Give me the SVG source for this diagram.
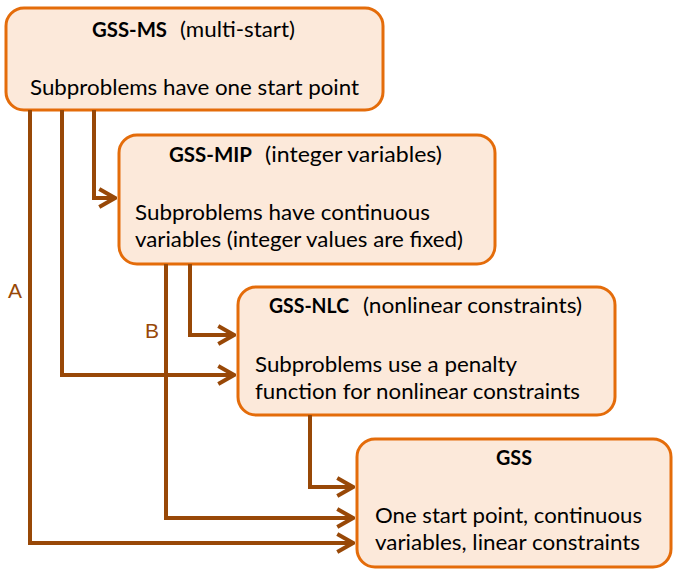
<svg xmlns="http://www.w3.org/2000/svg" width="680" height="580" viewBox="0 0 680 580">
<style>
.box{fill:#FCE9DA;stroke:#E46C0A;stroke-width:3}
.t{font-family:Lato,"Open Sans","Liberation Sans",sans-serif;font-size:21.5px;fill:#000}
.b{font-weight:bold}
.conn{fill:none;stroke:#984807;stroke-width:4;stroke-linejoin:miter}
.lbl{font-family:"Liberation Sans",Arial,sans-serif;font-size:21px;fill:#984807}
</style>
<defs>
<marker id="arr" markerUnits="userSpaceOnUse" viewBox="-18 -11 20 22" markerWidth="20" markerHeight="22" refX="0" refY="0" orient="auto">
<path d="M-14,-8 L0,0 L-14,8" fill="none" stroke="#984807" stroke-width="4" stroke-linecap="square" stroke-linejoin="miter"/>
</marker>
</defs>
<rect width="680" height="580" fill="#fff"/>
<g id="gss-ms">
<rect class="box" x="6" y="8" width="377" height="102" rx="18"/>
<text class="t b" x="92" y="37" textLength="75" lengthAdjust="spacingAndGlyphs">GSS-MS</text>
<text class="t" x="180" y="37" textLength="115" lengthAdjust="spacingAndGlyphs">(multi-start)</text>
<text class="t" x="30" y="95" textLength="329" lengthAdjust="spacingAndGlyphs">Subproblems have one start point</text>
</g>
<g id="gss-mip">
<rect class="box" x="119" y="135" width="376" height="129" rx="18"/>
<text class="t b" x="169" y="162" textLength="83" lengthAdjust="spacingAndGlyphs">GSS-MIP</text>
<text class="t" x="265" y="162" textLength="177" lengthAdjust="spacingAndGlyphs">(integer variables)</text>
<text class="t" x="135" y="220" textLength="295" lengthAdjust="spacingAndGlyphs">Subproblems have continuous</text>
<text class="t" x="135" y="247" textLength="328" lengthAdjust="spacingAndGlyphs">variables (integer values are fixed)</text>
</g>
<g id="gss-nlc">
<rect class="box" x="238" y="287" width="377" height="128" rx="18"/>
<text class="t b" x="269" y="313" textLength="80" lengthAdjust="spacingAndGlyphs">GSS-NLC</text>
<text class="t" x="363" y="313" textLength="219" lengthAdjust="spacingAndGlyphs">(nonlinear constraints)</text>
<text class="t" x="255" y="372" textLength="262" lengthAdjust="spacingAndGlyphs">Subproblems use a penalty</text>
<text class="t" x="255" y="399" textLength="325" lengthAdjust="spacingAndGlyphs">function for nonlinear constraints</text>
</g>
<g id="gss">
<rect class="box" x="357" y="439" width="314" height="128" rx="18"/>
<text class="t b" x="496" y="465" textLength="36" lengthAdjust="spacingAndGlyphs">GSS</text>
<text class="t" x="375" y="523" textLength="267" lengthAdjust="spacingAndGlyphs">One start point, continuous</text>
<text class="t" x="375" y="550" textLength="265" lengthAdjust="spacingAndGlyphs">variables, linear constraints</text>
</g>
<g id="connectors">
<path class="conn" d="M94,110 V198 H115" marker-end="url(#arr)"/>
<path class="conn" d="M62,110 V375 H234" marker-end="url(#arr)"/>
<path class="conn" d="M30,110 V543 H353" marker-end="url(#arr)"/>
<path class="conn" d="M166,264 V518 H353" marker-end="url(#arr)"/>
<path class="conn" d="M190,264 V335 H234" marker-end="url(#arr)"/>
<path class="conn" d="M310,415 V487 H353" marker-end="url(#arr)"/>
<text class="lbl" x="8" y="298">A</text>
<text class="lbl" x="145" y="338">B</text>
</g>
</svg>
